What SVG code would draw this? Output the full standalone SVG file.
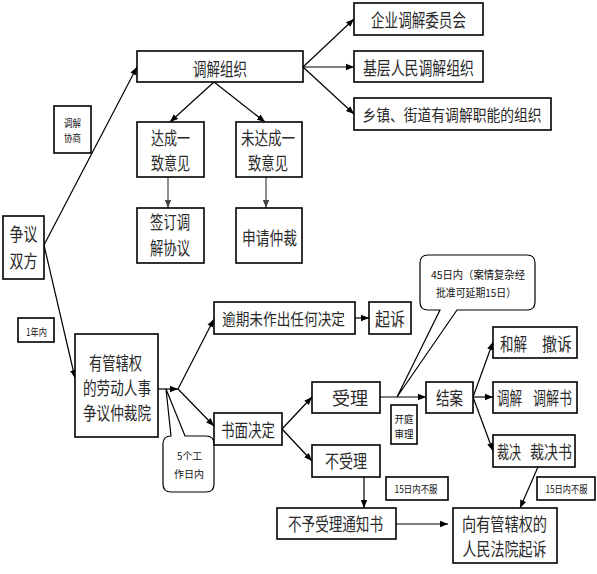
<svg xmlns="http://www.w3.org/2000/svg" width="597" height="574" viewBox="0 0 597 574">
<defs>
<marker id="ah" viewBox="0 0 10 10" refX="10" refY="5" markerWidth="8" markerHeight="8" markerUnits="userSpaceOnUse" orient="auto"><path d="M0,1 L10,5 L0,9 z" fill="#000"/></marker>
<marker id="ahg" viewBox="0 0 10 10" refX="10" refY="5" markerWidth="8" markerHeight="8" markerUnits="userSpaceOnUse" orient="auto"><path d="M0,1 L10,5 L0,9 z" fill="#444"/></marker>
</defs>
<style>
rect{fill:#fff;stroke:#000;stroke-width:1.6}
.c{fill:#fff;stroke:#000;stroke-width:1.2}
text{font-family:"Noto Sans CJK SC","Noto Sans",sans-serif;font-size:18px;fill:#2a2a2a;text-anchor:middle;dominant-baseline:central}
.m{font-size:16px}
.s{font-size:10px;fill:#111}
#connectors line{stroke:#000;stroke-width:1.2;fill:none}
#connectors line.a{marker-end:url(#ah)}
#connectors line.g{stroke:#444;marker-end:url(#ahg)}
</style>
<rect x="0" y="0" width="597" height="574" style="fill:#fff;stroke:none"/>

<g id="connectors">
<line class="a" x1="44" y1="245" x2="137" y2="67"/>
<line class="a" x1="44" y1="245" x2="75" y2="378"/>
<line class="a" x1="303" y1="67" x2="354" y2="19"/>
<line class="a" x1="303" y1="67" x2="354" y2="67"/>
<line class="a" x1="303" y1="67" x2="354" y2="114"/>
<line class="a" x1="214" y1="82" x2="170" y2="122"/>
<line class="a" x1="214" y1="82" x2="265" y2="122"/>
<line class="g" x1="168" y1="177" x2="168" y2="208"/>
<line class="g" x1="266" y1="177" x2="266" y2="208"/>
<line class="a" x1="158" y1="389" x2="178" y2="389"/>
<line class="a" x1="178" y1="389" x2="214" y2="319"/>
<line class="a" x1="178" y1="389" x2="214" y2="426"/>
<line class="a" x1="355" y1="318" x2="369" y2="318"/>
<line class="a" x1="282" y1="429" x2="312" y2="397"/>
<line class="a" x1="282" y1="429" x2="312" y2="461"/>
<line class="a" x1="380" y1="397" x2="426" y2="397"/>
<line class="a" x1="473" y1="397" x2="493" y2="342"/>
<line class="a" x1="473" y1="397" x2="493" y2="397"/>
<line class="a" x1="473" y1="397" x2="493" y2="451"/>
<line class="a" x1="364" y1="477" x2="364" y2="508"/>
<line class="a" x1="396" y1="524" x2="448" y2="524"/>
<line class="a" x1="538" y1="467" x2="520" y2="508"/>
</g>

<g id="n-mediation-org"><rect x="137" y="51" width="166" height="31"/><text x="220" y="67.5" textLength="54" lengthAdjust="spacingAndGlyphs">调解组织</text></g>
<g id="n-enterprise"><rect x="354" y="3" width="129" height="32"/><text x="418.5" y="19" textLength="95" lengthAdjust="spacingAndGlyphs">企业调解委员会</text></g>
<g id="n-grassroots"><rect x="354" y="51" width="129" height="31"/><text x="418.5" y="67" textLength="111" lengthAdjust="spacingAndGlyphs">基层人民调解组织</text></g>
<g id="n-township"><rect x="354" y="98" width="197" height="32"/><text class="m" x="452" y="114" textLength="179" lengthAdjust="spacingAndGlyphs">乡镇、街道有调解职能的组织</text></g>
<g id="n-consult"><rect x="54" y="106" width="37" height="47"/><text class="s" x="72.5" y="122" textLength="17" lengthAdjust="spacingAndGlyphs">调解</text><text class="s" x="72.5" y="137" textLength="17" lengthAdjust="spacingAndGlyphs">协商</text></g>
<g id="n-agree"><rect x="137" y="122" width="67" height="55"/><text x="170.5" y="137" textLength="39" lengthAdjust="spacingAndGlyphs">达成一</text><text x="170.5" y="162" textLength="39" lengthAdjust="spacingAndGlyphs">致意见</text></g>
<g id="n-disagree"><rect x="236" y="122" width="66" height="55"/><text x="268" y="137" textLength="54" lengthAdjust="spacingAndGlyphs">未达成一</text><text x="268" y="162" textLength="40" lengthAdjust="spacingAndGlyphs">致意见</text></g>
<g id="n-sign"><rect x="137" y="208" width="67" height="55"/><text x="170" y="221" textLength="40" lengthAdjust="spacingAndGlyphs">签订调</text><text x="170" y="247" textLength="40" lengthAdjust="spacingAndGlyphs">解协议</text></g>
<g id="n-apply"><rect x="236" y="208" width="66" height="55"/><text x="269.5" y="237" textLength="55" lengthAdjust="spacingAndGlyphs">申请仲裁</text></g>
<g id="n-parties"><rect x="3" y="216" width="41" height="63"/><text x="23.5" y="233" textLength="28" lengthAdjust="spacingAndGlyphs">争议</text><text x="23.5" y="260" textLength="28" lengthAdjust="spacingAndGlyphs">双方</text></g>
<g id="n-1year"><rect x="18" y="318" width="36" height="24"/><text class="s" x="36.5" y="331" textLength="21" lengthAdjust="spacingAndGlyphs">1年内</text></g>
<g id="n-arbitration"><rect x="75" y="334" width="83" height="103"/><text x="115.5" y="362" textLength="53" lengthAdjust="spacingAndGlyphs">有管辖权</text><text x="117" y="387" textLength="68" lengthAdjust="spacingAndGlyphs">的劳动人事</text><text x="117" y="412" textLength="68" lengthAdjust="spacingAndGlyphs">争议仲裁院</text></g>
<g id="n-5days"><path class="c" d="M163,444 Q163,436 171,436 L166,389 L185,436 H206 Q214,436 214,444 V484 Q214,492 206,492 H171 Q163,492 163,484 Z"/><text class="s" x="189.5" y="455" textLength="25" lengthAdjust="spacingAndGlyphs">5个工</text><text class="s" x="189" y="473" textLength="30" lengthAdjust="spacingAndGlyphs">作日内</text></g>
<g id="n-overdue"><rect x="214" y="302" width="141" height="32"/><text class="m" x="283.5" y="318" textLength="123" lengthAdjust="spacingAndGlyphs">逾期未作出任何决定</text></g>
<g id="n-sue1"><rect x="369" y="302" width="42" height="32"/><text x="390" y="318" textLength="30" lengthAdjust="spacingAndGlyphs">起诉</text></g>
<g id="n-written"><rect x="214" y="413" width="68" height="32"/><text x="248" y="429" textLength="54" lengthAdjust="spacingAndGlyphs">书面决定</text></g>
<g id="n-accept"><rect x="312" y="382" width="68" height="31"/><text x="350" y="397" textLength="36" lengthAdjust="spacingAndGlyphs">受理</text></g>
<g id="n-reject"><rect x="312" y="445" width="68" height="32"/><text x="346" y="460" textLength="42" lengthAdjust="spacingAndGlyphs">不受理</text></g>
<g id="n-45days"><path class="c" d="M428,255 H527 Q535,255 535,263 V302 Q535,310 527,310 H457 L397,397 L440,310 H428 Q420,310 420,302 V263 Q420,255 428,255 Z"/><text x="478" y="274" style="font-size:11px;fill:#111" textLength="94" lengthAdjust="spacingAndGlyphs">45日内（案情复杂经</text><text x="476" y="292" style="font-size:11px;fill:#111" textLength="80" lengthAdjust="spacingAndGlyphs">批准可延期15日）</text></g>
<g id="n-hearing"><rect x="391" y="405" width="26" height="39"/><text class="s" x="404" y="418" textLength="19" lengthAdjust="spacingAndGlyphs">开庭</text><text class="s" x="404" y="433" textLength="19" lengthAdjust="spacingAndGlyphs">审理</text></g>
<g id="n-close"><rect x="426" y="382" width="47" height="31"/><text x="449.5" y="397" textLength="27" lengthAdjust="spacingAndGlyphs">结案</text></g>
<g id="n-settle"><rect x="493" y="327" width="84" height="31"/><text x="513.5" y="343" textLength="27" lengthAdjust="spacingAndGlyphs">和解</text><text x="557" y="343" textLength="30" lengthAdjust="spacingAndGlyphs">撤诉</text></g>
<g id="n-mediate"><rect x="493" y="382" width="84" height="31"/><text x="509.5" y="397" textLength="25" lengthAdjust="spacingAndGlyphs">调解</text><text x="552.5" y="397" textLength="39" lengthAdjust="spacingAndGlyphs">调解书</text></g>
<g id="n-award"><rect x="493" y="435" width="82" height="32"/><text x="509" y="451" textLength="24" lengthAdjust="spacingAndGlyphs">裁决</text><text x="551" y="451" textLength="42" lengthAdjust="spacingAndGlyphs">裁决书</text></g>
<g id="n-15l"><rect x="386" y="477" width="62" height="23"/><text class="s" x="416" y="488.5" textLength="43" lengthAdjust="spacingAndGlyphs">15日内不服</text></g>
<g id="n-notice"><rect x="277" y="508" width="119" height="31"/><text x="335.5" y="523" textLength="95" lengthAdjust="spacingAndGlyphs">不予受理通知书</text></g>
<g id="n-court"><rect x="453" y="508" width="104" height="55"/><text x="504.5" y="523" textLength="85" lengthAdjust="spacingAndGlyphs">向有管辖权的</text><text x="504.5" y="548" textLength="84" lengthAdjust="spacingAndGlyphs">人民法院起诉</text></g>
<g id="n-15r"><rect x="537" y="477" width="58" height="23"/><text class="s" x="566.5" y="488.5" textLength="42" lengthAdjust="spacingAndGlyphs">15日内不服</text></g>
</svg>
